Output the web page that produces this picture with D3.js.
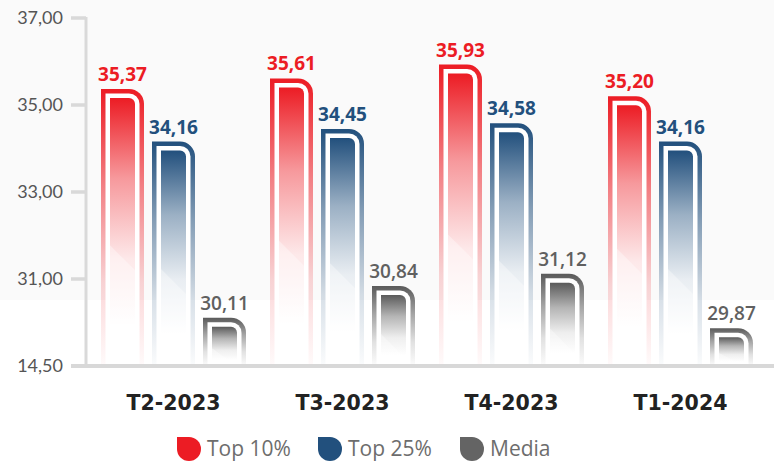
<!DOCTYPE html>
<html><head><meta charset="utf-8">
<script src="https://cdn.jsdelivr.net/npm/d3@7/dist/d3.min.js"></script>
<style>html,body{margin:0;padding:0;background:#fff;}svg{display:block;}</style>
</head><body>
<svg id="chart" width="774" height="463"></svg>
<script>
const categories = ["T2-2023", "T3-2023", "T4-2023", "T1-2024"];
const seriesNames = ["Top 10%", "Top 25%", "Media"];
const top10 = [35.37, 35.61, 35.93, 35.20];
const top25 = [34.16, 34.45, 34.58, 34.16];
const media = [30.11, 30.84, 31.12, 29.87];
const tickValues = [29, 31, 33, 35, 37];
const tickLabels = ["14,50", "31,00", "33,00", "35,00", "37,00"];
const colors = ["#ec1c24", "#22507d", "#5a5a5a"];
const labelColors = ["#ec1c24", "#22507d", "#606060"];
const legendColors = ["#ec1c24", "#22507d", "#646464"];

const seriesValues = [top10, top25, media];
const fmt = d3.formatLocale({decimal: ",", thousands: ".", grouping: [3], currency: ["", "€"]}).format(".2f");

const svg = d3.select("#chart");
const W = 774, H = 463;
const yBottom = 366, yTop = 18;

// background band
svg.append("rect").attr("x", 0).attr("y", 0).attr("width", W).attr("height", 300).attr("fill", "#fafafa");

const y = d3.scaleLinear().domain([29, 37]).range([yBottom, yTop]);
const x0 = d3.scaleBand().domain(categories).range([89, 765]);
const x1 = d3.scaleBand().domain(seriesNames).range([12, 157]).paddingInner(8 / 51).paddingOuter(0);

const defs = svg.append("defs");
seriesNames.forEach((s, i) => {
  const go = defs.append("linearGradient").attr("id", "go" + i).attr("x1", 0).attr("y1", 0).attr("x2", 0).attr("y2", 1);
  [[0, 1], [0.35, 0.55], [0.7, 0.18], [1, 0.02]].forEach(([o, a]) =>
    go.append("stop").attr("offset", o).attr("stop-color", colors[i]).attr("stop-opacity", a));
  const gi = defs.append("linearGradient").attr("id", "gi" + i).attr("x1", 0).attr("y1", 0).attr("x2", 0).attr("y2", 1);
  [[0, 1], [0.3, 0.45], [0.6, 0.1], [0.85, 0]].forEach(([o, a]) =>
    gi.append("stop").attr("offset", o).attr("stop-color", colors[i]).attr("stop-opacity", a));
});

function barPath(x, yt, w, yb, r) {
  return `M${x},${yb}V${yt}H${x + w - r}A${r},${r} 0 0 1 ${x + w},${yt + r}V${yb}Z`;
}

const bw = x1.bandwidth();
categories.forEach((c, ci) => {
  const g = svg.append("g").attr("transform", `translate(${x0(c)},0)`);
  seriesNames.forEach((s, si) => {
    const v = seriesValues[si][ci];
    const bx = x1(s), yt = y(v);
    g.append("path").attr("d", barPath(bx, yt, bw, yBottom, 15)).attr("fill", `url(#go${si})`);
    g.append("path").attr("d", barPath(bx + 4.5, yt + 4.5, bw - 9, yBottom, 10.5)).attr("fill", "#fff");
    g.append("path").attr("d", barPath(bx + 9, yt + 9, bw - 18, yBottom, 6)).attr("fill", `url(#gi${si})`);
    // diagonal light cut
    const L = bx + 9, R = bx + bw - 9;
    const yd = yt + 9 + (yBottom - yt - 9) * 0.55;
    g.append("path")
      .attr("d", `M${L},${yd}L${R},${Math.min(yd + (R - L), yBottom)}V${yBottom}H${L}Z`)
      .attr("fill", "#fff").attr("opacity", 0.35);
    g.append("text").attr("x", bx + bw / 2).attr("y", yt - 8)
      .attr("text-anchor", "middle")
      .attr("font-family", "'Open Sans', sans-serif")
      .attr("font-weight", si === 2 ? 600 : 700)
      .attr("font-size", 19)
      .attr("fill", labelColors[si])
      .text(fmt(v));
  });
});

// Y axis
const axisColor = "#d9d9d9";
svg.append("line").attr("x1", 86).attr("x2", 86).attr("y1", yTop - 1).attr("y2", yBottom).attr("stroke", axisColor).attr("stroke-width", 3);
tickValues.forEach((t, i) => {
  if (i > 0) svg.append("line").attr("x1", 71).attr("x2", 86).attr("y1", y(t)).attr("y2", y(t)).attr("stroke", axisColor).attr("stroke-width", 3.5);
  svg.append("text").attr("x", 63).attr("y", y(t) + 6)
    .attr("text-anchor", "end")
    .attr("font-family", "Lato, sans-serif").attr("font-size", 18).attr("fill", "#555")
    .text(tickLabels[i]);
});
// X axis line
svg.append("line").attr("x1", 71).attr("x2", W).attr("y1", yBottom).attr("y2", yBottom).attr("stroke", "#d8d8d8").attr("stroke-width", 4);

// category labels
categories.forEach(c => {
  svg.append("text").attr("x", x0(c) + 84.5).attr("y", 410)
    .attr("text-anchor", "middle")
    .attr("font-family", "'DejaVu Sans', sans-serif").attr("font-weight", 700).attr("font-size", 20.5)
    .attr("fill", "#222").text(c);
});

// legend
const legendX = [177, 318, 460];
function dropPath(x, yy, s) {
  const r = s / 2;
  return `M${x},${yy}H${x + r}A${r},${r} 0 0 1 ${x + s},${yy + r}A${r},${r} 0 0 1 ${x + r},${yy + s}A${r},${r} 0 0 1 ${x},${yy + r}Z`;
}
seriesNames.forEach((s, i) => {
  svg.append("path").attr("d", dropPath(legendX[i], 437, 24)).attr("fill", legendColors[i]);
  svg.append("text").attr("x", legendX[i] + 30).attr("y", 456)
    .attr("font-family", "'Open Sans', sans-serif").attr("font-size", 21).attr("fill", "#6d6d6d")
    .text(s);
});
</script>
</body></html>
